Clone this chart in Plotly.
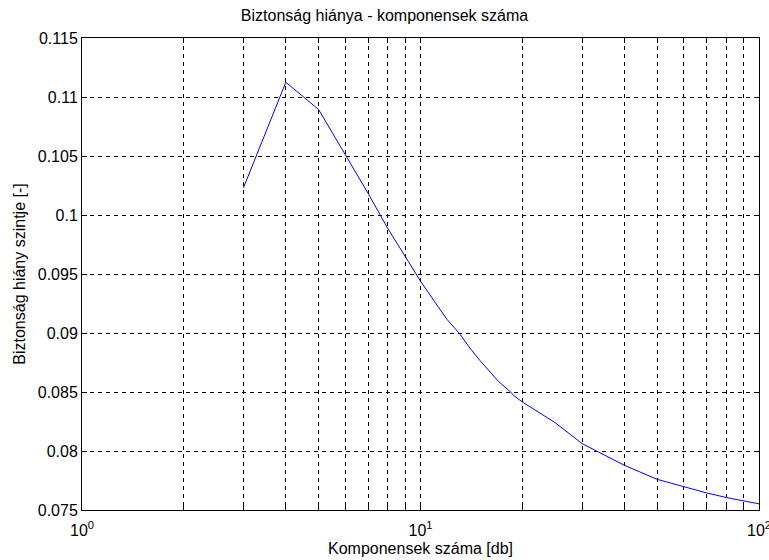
import plotly.graph_objects as go

# Number of components and the corresponding lack-of-safety level
components = [3, 4, 5, 6, 7, 8, 9, 10, 11, 12, 13, 14, 15, 16, 17, 18, 19, 20,
              25, 30, 35, 40, 50, 60, 70, 80, 90, 100]
safety_gap = [0.10231, 0.11125, 0.10894, 0.10516, 0.10184, 0.09887, 0.09652,
              0.09440, 0.09267, 0.09112, 0.09000, 0.08872, 0.08765, 0.08674,
              0.08590, 0.08528, 0.08463, 0.08415, 0.08240, 0.08063, 0.07964,
              0.07879, 0.07760, 0.07695, 0.07645, 0.07606, 0.07577, 0.07552]

# Log-axis ticks: a gridline on every 1..9 x 10^k, labels only on decades
x_tick_vals = [1, 2, 3, 4, 5, 6, 7, 8, 9, 10, 20, 30, 40, 50, 60, 70, 80, 90, 100]
x_tick_text = ["10<sup>0</sup>", "", "", "", "", "", "", "", "",
               "10<sup>1</sup>", "", "", "", "", "", "", "", "", "10<sup>2</sup>"]
y_tick_vals = [0.075, 0.08, 0.085, 0.09, 0.095, 0.1, 0.105, 0.11, 0.115]
y_tick_text = ["0.075", "0.08", "0.085", "0.09", "0.095", "0.1", "0.105", "0.11", "0.115"]

font_family = "Liberation Sans, Arial, sans-serif"
font_size = 16

fig = go.Figure()
fig.add_trace(go.Scatter(
    x=components, y=safety_gap, mode="lines",
    line=dict(color="#0000ff", width=1), showlegend=False,
))

axis_common = dict(
    showline=True, linecolor="black", linewidth=1, mirror="ticks",
    ticks="inside", ticklen=5, tickcolor="black",
    showgrid=True, gridcolor="black", gridwidth=1, griddash="4px,4px",
    zeroline=False, automargin=False, ticklabeloverflow="allow",
    tickfont=dict(family=font_family, size=font_size, color="black"),
)

fig.update_layout(
    width=769, height=560,
    margin=dict(l=82, r=10, t=38, b=50),
    paper_bgcolor="white", plot_bgcolor="white",
    font=dict(family=font_family, size=font_size, color="black"),
    title=dict(text="Biztonság hiánya - komponensek száma", x=0.5, xanchor="center",
               y=1 - 15 / 560, yanchor="middle",
               font=dict(family=font_family, size=font_size, color="black")),
    xaxis=dict(type="log", range=[0, 2], tickmode="array",
               tickvals=x_tick_vals, ticktext=x_tick_text,
               ticklabelstandoff=6,
               **axis_common),
    yaxis=dict(range=[0.075, 0.115], tickmode="array",
               tickvals=y_tick_vals, ticktext=y_tick_text,
               title=dict(text="Biztonság hiány szintje [-]", standoff=8,
                          font=dict(family=font_family, size=font_size)),
               **axis_common),
    annotations=[dict(
        text="Komponensek száma [db]", xref="paper", yref="paper",
        x=0.5, y=-38 / 472, xanchor="center", yanchor="middle",
        showarrow=False, font=dict(family=font_family, size=font_size, color="black"),
    )],
)

fig.write_html("out.html")
